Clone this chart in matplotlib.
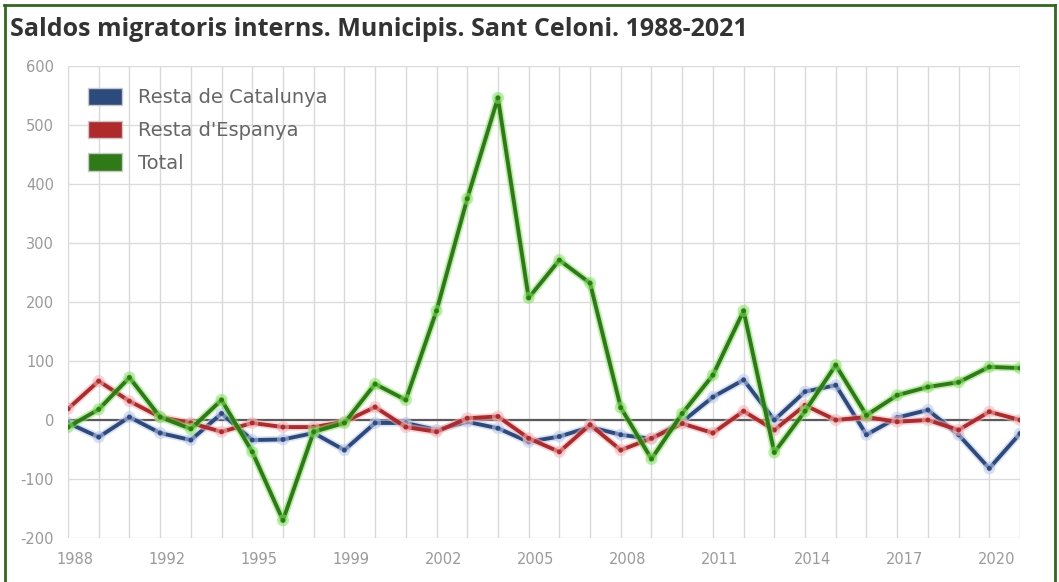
import matplotlib
matplotlib.use("Agg")
import matplotlib.pyplot as plt
import matplotlib.patheffects as pe
import matplotlib.transforms as mtransforms
from matplotlib.patches import Patch
from matplotlib.lines import Line2D

# ---- data -------------------------------------------------------------
years = ["1988", "1989", "1990", "1992", "1993", "1994", "1995", "1997",
         "1998", "1999", "2000", "2001", "2002", "2003", "2004", "2005",
         "2006", "2007", "2008", "2009", "2010", "2011", "2012", "2013",
         "2014", "2015", "2016", "2017", "2018", "2019", "2020", "2021"]

resta_catalunya = [-5, -29, 5, -22, -34, 11, -34, -33, -22, -51,
                   -5, -5, -17, -3, -14, -37, -28, -12, -25, -32,
                   -3, 39, 68, 0, 48, 59, -25, 4, 17, -25, -82, -23]

resta_espanya = [19, 66, 32, 5, -5, -20, -5, -12, -12, -3,
                 22, -12, -20, 3, 6, -31, -54, -8, -51, -31,
                 -6, -22, 15, -17, 25, 0, 5, -3, 0, -17, 14, 0]

total = [-12, 18, 72, 5, -15, 34, -54, -170, -20, -5,
         61, 34, 185, 375, 546, 207, 271, 232, 21, -66,
         11, 76, 185, -55, 15, 93, 8, 42, 56, 64, 90, 88]

series_names = ["Resta de Catalunya", "Resta d'Espanya", "Total"]
series_colors = ["#2d4a7d", "#b02a2c", "#2d7a16"]
glow_colors = ["#b9c8ec", "#f2b4b6", "#7fe25a"]

y_ticks = [-200, -100, 0, 100, 200, 300, 400, 500, 600]
x_label_every = 3
title = "Saldos migratoris interns. Municipis. Sant Celoni. 1988-2021"

# ---- figure -----------------------------------------------------------
W, H = 1059, 582
fig = plt.figure(figsize=(W / 100, H / 100), dpi=100)
fig.patch.set_facecolor("white")

left, right, top, bottom = 68, 1020, 66, 538
ax = fig.add_axes([left / W, 1 - bottom / H, (right - left) / W, (bottom - top) / H])
ax.set_facecolor("white")

xs = list(range(len(years)))
ax.set_xlim(0, len(years) - 1)
ax.set_ylim(-200, 600)

# grid
for x in xs:
    ax.axvline(x, color="#d9d9d9", lw=1.0, zorder=0)
for y in y_ticks:
    ax.axhline(y, color="#dcdcdc", lw=1.0, zorder=0)
ax.axhline(0, color="#5a5a5a", lw=1.6, zorder=1)

for s in ax.spines.values():
    s.set_visible(False)

data = [resta_catalunya, resta_espanya, total]
for vals, col, glow, name in zip(data, series_colors, glow_colors, series_names):
    ax.plot(xs, vals, color=col, lw=2.8, marker="o", markersize=3.5,
            markeredgewidth=0, label=name, zorder=3,
            path_effects=[pe.Stroke(linewidth=5.2, foreground=glow, alpha=0.55),
                          pe.Normal()])

# ticks
ax.set_yticks(y_ticks)
ax.set_yticklabels([str(v) for v in y_ticks])
tick_pos = xs[::x_label_every]
ax.set_xticks(tick_pos)
ax.set_xticklabels([years[i] for i in tick_pos])
ax.tick_params(axis="both", length=0, colors="#9a9a9a", labelsize=10.5)
ax.tick_params(axis="y", pad=10)
ax.tick_params(axis="x", pad=10)
offset = mtransforms.ScaledTranslation(7 / 100, 0, fig.dpi_scale_trans)
for lab in ax.get_xticklabels():
    lab.set_transform(lab.get_transform() + offset)

# legend
handles = [Patch(facecolor=c, edgecolor="#c8c8c8", linewidth=1.0) for c in series_colors]
leg = ax.legend(handles, series_names, loc="upper left",
                bbox_to_anchor=(20 / (right - left), 1 - 22 / (bottom - top)),
                frameon=False, fontsize=14, handlelength=1.75, handleheight=1.0,
                labelspacing=0.68, handletextpad=0.8, borderpad=0, borderaxespad=0)
for t in leg.get_texts():
    t.set_color("#666666")

# title
fig.text(10 / W, 1 - 30 / H, title, fontsize=18, fontweight="bold",
         family=["Open Sans", "DejaVu Sans"], color="#333333", va="center", ha="left")

# green frame
frame_col = "#2f6a1c"
fig.add_artist(Line2D([4 / W, 1055 / W], [1 - 5 / H, 1 - 5 / H], color=frame_col, lw=2,
                      transform=fig.transFigure))
fig.add_artist(Line2D([5 / W, 5 / W], [0, 1 - 5 / H], color=frame_col, lw=2,
                      transform=fig.transFigure))
fig.add_artist(Line2D([1055 / W, 1055 / W], [0, 1 - 5 / H], color=frame_col, lw=2,
                      transform=fig.transFigure))

fig.savefig("out.png", dpi=100)
